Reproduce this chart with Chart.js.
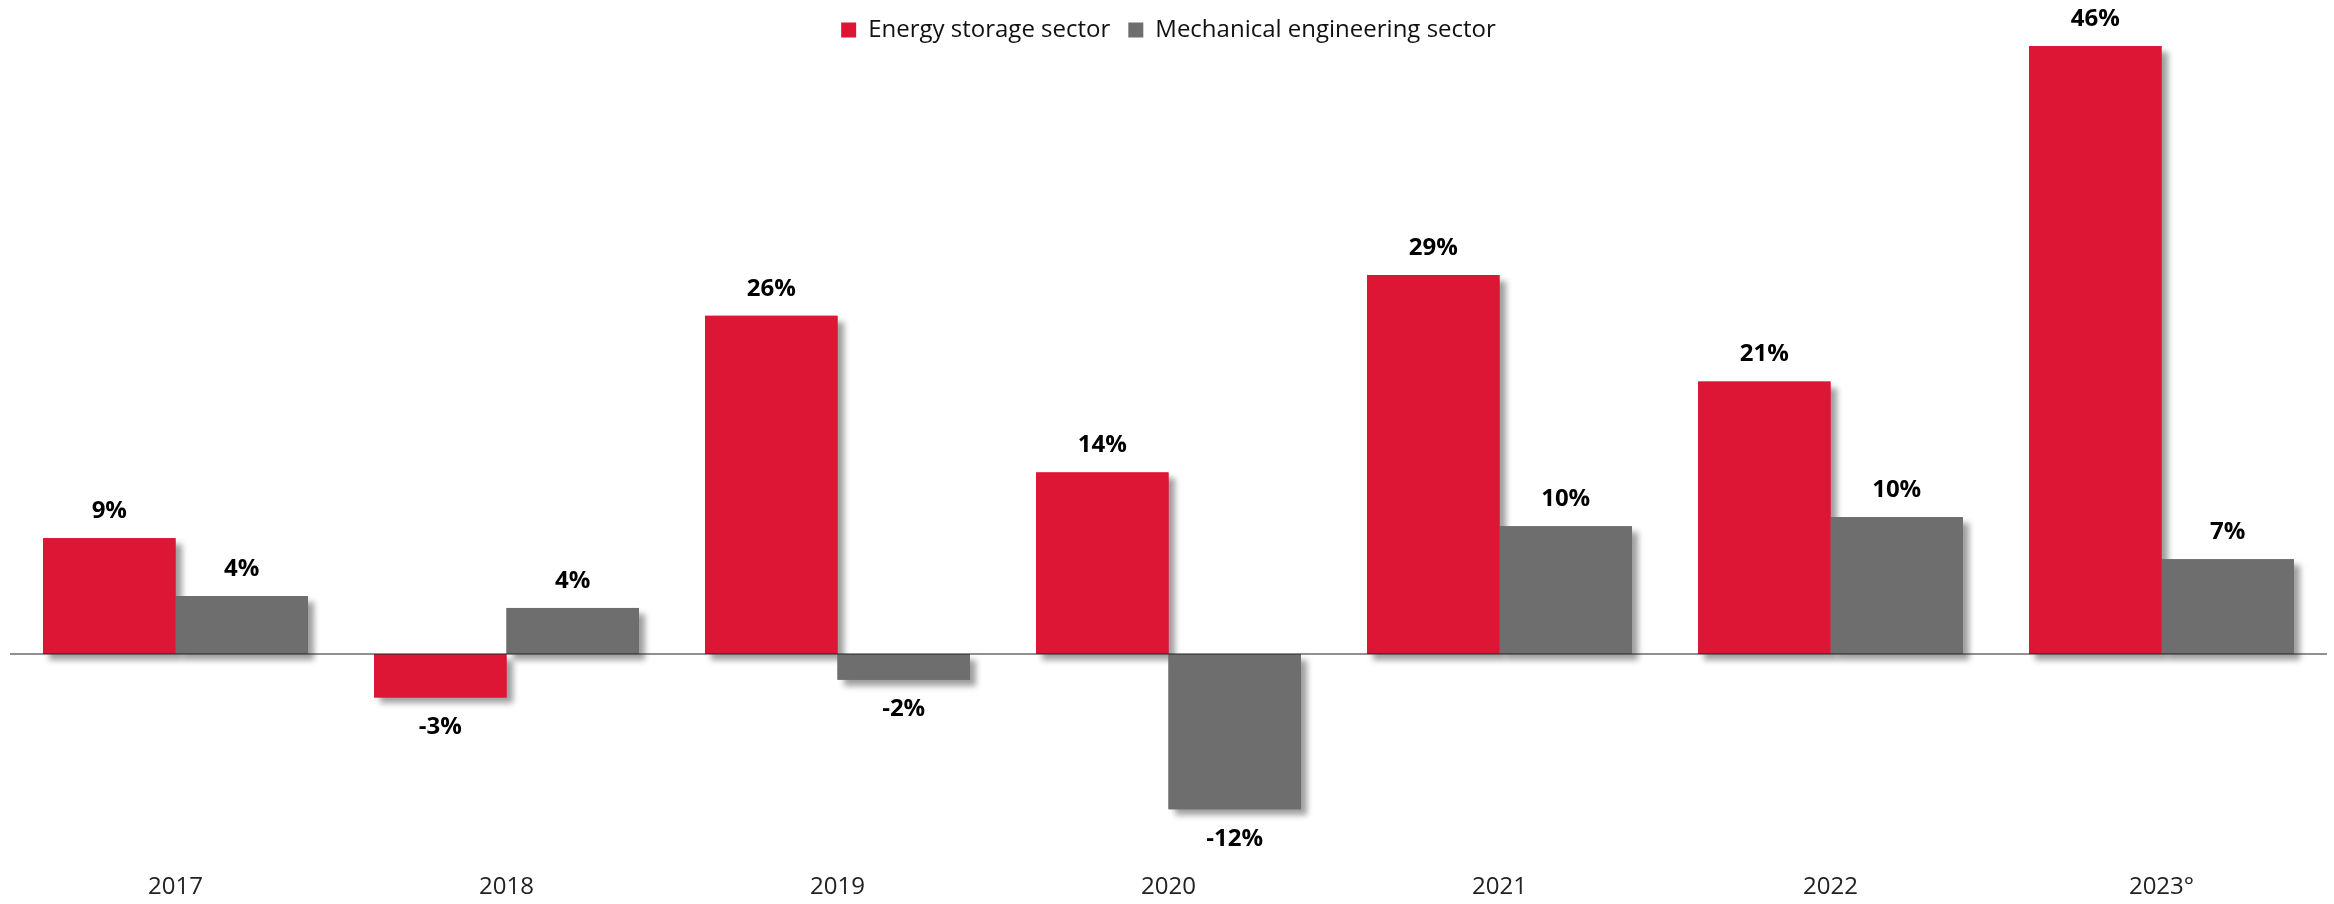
<!DOCTYPE html>
<html>
<head>
<meta charset="utf-8">
<script src="https://cdn.jsdelivr.net/npm/chart.js@4"></script>
<style>
  html, body { margin: 0; padding: 0; background: #fff; }
  #wrap { width: 2334px; height: 904px; }
</style>
</head>
<body>
<div id="wrap"><canvas id="miGrafica"></canvas></div>
<script>
const years = ["2017", "2018", "2019", "2020", "2021", "2022", "2023°"];
const energyStorage = [8.8, -3.3, 25.7, 13.8, 28.8, 20.7, 46.2];
const mechEngineering = [4.4, 3.5, -1.95, -11.8, 9.7, 10.4, 7.2];
const seriesNames = ["Energy storage sector", "Mechanical engineering sector"];

Chart.defaults.font.family = "'Open Sans', sans-serif";

// la leyenda no ocupa sitio: las barras altas pasan por detras
const leyendaFlotante = {
  id: "leyendaFlotante",
  beforeLayout(chart) {
    const legend = chart.legend;
    if (legend && !legend._parcheado) {
      const fit = legend.fit;
      const draw = legend.draw;
      legend.fit = function () {
        fit.call(this);
        this._altoReal = this.height;
        this.height = 0;
      };
      legend.draw = function () {
        const h = this.height, b = this.bottom;
        this.height = this._altoReal;
        this.bottom = this.top + this._altoReal;
        draw.call(this);
        this.height = h;
        this.bottom = b;
      };
      legend._parcheado = true;
    }
  }
};

// sombra de las barras: primero todas las sombras, luego las barras limpias
const sombra = {
  id: "sombra",
  beforeDatasetsDraw(chart) {
    const ctx = chart.ctx;
    ctx.save();
    ctx.shadowColor = "rgba(0,0,0,0.38)";
    ctx.shadowBlur = 6;
    ctx.shadowOffsetX = 6;
    ctx.shadowOffsetY = 6;
    chart.data.datasets.forEach((ds, i) => {
      ctx.fillStyle = ds.backgroundColor;
      chart.getDatasetMeta(i).data.forEach((bar) => {
        const p = bar.getProps(["x", "y", "base", "width"], true);
        const top = Math.min(p.y, p.base);
        const h = Math.abs(p.base - p.y);
        ctx.fillRect(p.x - p.width / 2, top, p.width, h);
      });
    });
    ctx.restore();
  }
};

// linea del cero y etiquetas de valores
const etiquetas = {
  id: "etiquetas",
  afterDatasetsDraw(chart) {
    const ctx = chart.ctx;
    const area = chart.chartArea;
    const y0 = chart.scales.y.getPixelForValue(0);
    ctx.save();
    ctx.strokeStyle = "#222";
    ctx.lineWidth = 1.2;
    ctx.beginPath();
    ctx.moveTo(area.left, y0);
    ctx.lineTo(area.right, y0);
    ctx.stroke();

    ctx.fillStyle = "#000";
    ctx.font = "bold 24px 'Open Sans', sans-serif";
    ctx.textAlign = "center";
    ctx.textBaseline = "middle";
    chart.data.datasets.forEach((ds, i) => {
      chart.getDatasetMeta(i).data.forEach((bar, j) => {
        const v = ds.data[j];
        const y = v >= 0 ? bar.y - 27 : bar.y + 30;
        ctx.fillText(Math.round(v) + "%", bar.x, y);
      });
    });
    ctx.restore();
  }
};

new Chart(document.getElementById("miGrafica").getContext("2d"), {
  type: "bar",
  data: {
    labels: years,
    datasets: [
      {
        label: seriesNames[0],
        backgroundColor: "rgb(220, 22, 52)",
        data: energyStorage
      },
      {
        label: seriesNames[1],
        backgroundColor: "rgb(110, 110, 110)",
        data: mechEngineering
      }
    ]
  },
  options: {
    responsive: true,
    maintainAspectRatio: false,
    animation: false,
    layout: { padding: { left: 10, right: 7, top: 0, bottom: -8 } },
    datasets: { bar: { categoryPercentage: 0.8, barPercentage: 1.0 } },
    plugins: {
      tooltip: { enabled: false },
      legend: {
        position: "top",
        align: "center",
        labels: {
          boxWidth: 15,
          boxHeight: 15,
          padding: 18,
          color: "#111",
          font: { size: 24 }
        }
      }
    },
    scales: {
      x: {
        grid: { display: false, drawTicks: false },
        border: { display: false },
        ticks: { color: "#222", font: { size: 24 }, padding: 10 }
      },
      y: {
        display: false,
        min: -15.9,
        max: 49.7
      }
    }
  },
  plugins: [leyendaFlotante, sombra, etiquetas]
});
</script>
</body>
</html>
